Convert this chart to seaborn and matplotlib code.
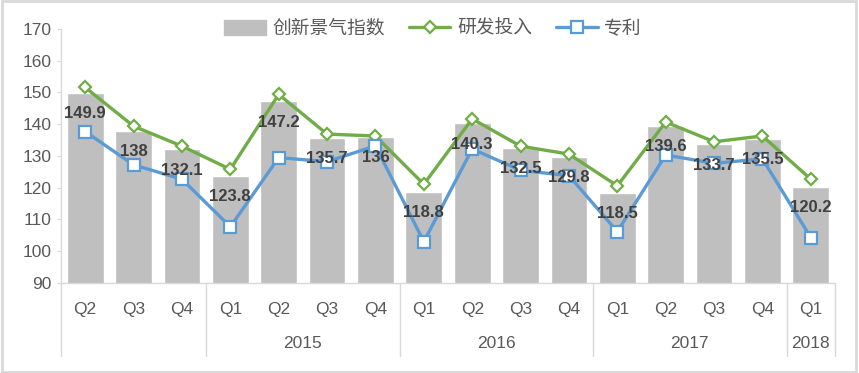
import numpy as np
import pandas as pd
import matplotlib
matplotlib.use('Agg')
import matplotlib.pyplot as plt
import matplotlib.transforms as mtransforms
from matplotlib.patches import Rectangle, Patch
import seaborn as sns

quarters = ['Q2', 'Q3', 'Q4', 'Q1', 'Q2', 'Q3', 'Q4', 'Q1', 'Q2', 'Q3', 'Q4', 'Q1', 'Q2', 'Q3', 'Q4', 'Q1']
years = ['', '', '', '2015', '2015', '2015', '2015', '2016', '2016', '2016', '2016',
         '2017', '2017', '2017', '2017', '2018']
index_vals = [149.9, 138, 132.1, 123.8, 147.2, 135.7, 136, 118.8, 140.3, 132.5, 129.8,
              118.5, 139.6, 133.7, 135.5, 120.2]
rd_vals = [151.6, 139.4, 133.1, 125.8, 149.4, 136.9, 136.3, 121.1, 141.7, 133.1, 130.6,
           120.6, 140.7, 134.5, 136.3, 122.7]
patent_vals = [137.7, 127.2, 122.7, 107.7, 129.5, 128.2, 133.2, 103.0, 132.2, 125.5, 123.8,
               106.2, 130.3, 127.7, 129.1, 104.3]

df = pd.DataFrame({'pos': range(len(quarters)), 'index': index_vals,
                   'rd': rd_vals, 'patent': patent_vals})

sns.set_style('white')
plt.rcParams['font.family'] = ['Liberation Sans', 'Noto Sans CJK SC', 'DejaVu Sans']

fig = plt.figure(figsize=(8.59, 3.73), dpi=100)
ax = fig.add_axes([61/859, 1-283/373, (835-61)/859, (283-29)/373])

gray = '#BFBFBF'
green = '#70AD47'
blue = '#5B9BD5'
txt = '#595959'

sns.barplot(data=df, x='pos', y='index', color=gray, width=0.76, ax=ax, saturation=1)
l_rd, = ax.plot(df['pos'], df['rd'], color=green, lw=2.4, marker='D', ms=6.5,
                mfc='white', mec=green, mew=1.6)
l_pat, = ax.plot(df['pos'], df['patent'], color=blue, lw=2.4, marker='s', ms=8,
                 mfc='white', mec=blue, mew=1.6)

for i, v in enumerate(index_vals):
    ax.annotate(f'{v:g}', (i, v), xytext=(0, -15), textcoords='offset points',
                ha='center', va='center', fontsize=12, color='#404040', fontweight='bold')

ax.set_xlim(-0.5, len(quarters) - 0.5)
ax.set_ylim(90, 170)
ax.set_yticks(np.arange(90, 171, 10))
ax.tick_params(axis='y', labelsize=12.5, colors=txt, length=3, width=0.8, color='#D9D9D9', left=True, pad=4)
ax.set_xticks(range(len(quarters)))
ax.set_xticklabels(quarters)
ax.tick_params(axis='x', labelsize=12.5, colors=txt, length=0, pad=14)
ax.set_xlabel('')
ax.set_ylabel('')
for s in ['top', 'right']:
    ax.spines[s].set_visible(False)
for s in ['left', 'bottom']:
    ax.spines[s].set_color('#D9D9D9')
    ax.spines[s].set_linewidth(1)

# year grouping
trans = mtransforms.blended_transform_factory(ax.transData, ax.transAxes)
bounds = [-0.5]
for i in range(1, len(years)):
    if years[i] != years[i - 1]:
        bounds.append(i - 0.5)
bounds.append(len(years) - 0.5)
for b in bounds:
    ax.plot([b, b], [0, -73/254], transform=trans, color='#D9D9D9', lw=1, clip_on=False)
for a, b in zip(bounds[:-1], bounds[1:]):
    label = years[int(a + 0.5)]
    if label:
        ax.text((a + b) / 2, -61/254, label, transform=trans, ha='center', va='center',
                fontsize=12.5, color=txt)

handles = [Patch(color=gray), l_rd, l_pat]
labels = ['创新景气指数', '研发投入', '专利']
fig.legend(handles, labels, loc='center', bbox_to_anchor=(433/859, 1-29/373), ncol=3,
           frameon=False, fontsize=13.5, labelcolor=txt, handlelength=2.2, handleheight=0.8,
           handletextpad=0.35, columnspacing=1.3)

fig.patches.append(Rectangle((0.002, 0.003), 0.995, 0.994, transform=fig.transFigure,
                             fill=False, edgecolor='#D9D9D9', lw=2))

fig.savefig('out.png', dpi=100)
